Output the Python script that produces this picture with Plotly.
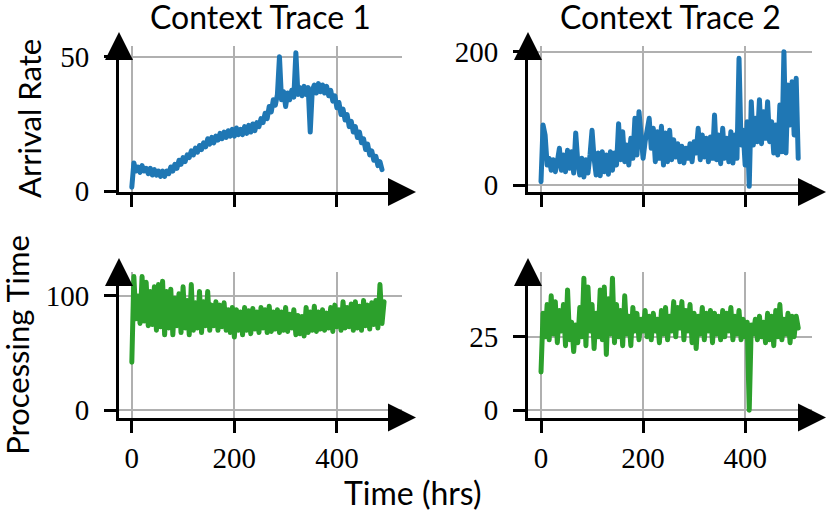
import plotly.graph_objects as go

# values, one sample every 4 hours
step_hrs = 4

arrival_1 = [
    1.5, 10.5, 7.5, 9.0, 7.0, 9.5, 7.5, 8.5, 6.5, 8.5, 6.0, 8.0, 6.0, 7.5, 5.5, 7.5,
    5.5, 7.5, 6.5, 9.0, 7.5, 10.0, 8.5, 11.5, 10.0, 12.5, 11.0, 13.5, 12.5, 15.0, 13.5, 16.0,
    14.5, 17.0, 15.5, 18.0, 16.5, 19.5, 17.5, 20.0, 18.0, 20.5, 19.0, 21.5, 19.5, 22.0, 20.0, 22.5,
    20.5, 23.0, 20.5, 23.5, 21.0, 23.0, 21.0, 24.0, 21.5, 24.5, 22.0, 25.0, 22.5, 25.5, 24.0, 27.0,
    25.5, 29.0, 27.0, 31.5, 29.5, 34.0, 32.0, 36.0, 50.0, 34.0, 37.0, 31.5, 36.5, 34.0, 37.5, 35.0,
    51.5, 36.0, 38.5, 35.5, 39.0, 36.0, 38.5, 22.0, 37.5, 39.5, 36.5, 40.0, 37.0, 39.5, 36.5, 39.0,
    35.5, 37.5, 33.5, 35.5, 31.0, 33.0, 28.5, 30.5, 26.5, 28.5, 24.0, 26.0, 22.0, 24.0, 20.0, 22.0,
    18.0, 19.5, 15.5, 17.5, 13.5, 15.0, 11.5, 13.0, 9.5, 11.0, 8.0,
]

arrival_2 = [
    5, 90, 75, 30, 40, 22, 38, 20, 35, 55, 22, 45, 20, 52, 25, 50,
    18, 78, 35, 15, 40, 12, 38, 18, 45, 82, 40, 15, 48, 14, 50, 20,
    45, 16, 50, 22, 48, 30, 92, 38, 80, 35, 60, 30, 70, 40, 100, 45,
    110, 75, 40, 65, 88, 100, 55, 85, 35, 80, 40, 88, 30, 78, 35, 82,
    38, 68, 42, 62, 35, 58, 33, 55, 40, 62, 35, 65, 48, 85, 38, 75,
    42, 70, 35, 72, 40, 105, 38, 75, 32, 85, 40, 70, 35, 80, 33, 75,
    40, 190, 60, 82, 30, 95, -2, 125, 60, 100, 65, 128, 62, 110, 70, 125,
    65, 95, 48, 90, 45, 120, 50, 200, 48, 150, 90, 155, 75, 160, 40,
]

processing_1 = [
    42, 117, 80, 100, 76, 117, 78, 112, 74, 104, 75, 108, 70, 110, 73, 113,
    66, 104, 72, 106, 66, 98, 74, 102, 68, 108, 72, 96, 66, 110, 70, 94,
    72, 104, 68, 95, 74, 104, 70, 92, 74, 95, 70, 92, 73, 94, 70, 88,
    68, 90, 64, 88, 70, 86, 66, 90, 70, 87, 67, 89, 71, 86, 68, 90,
    72, 88, 68, 91, 69, 86, 71, 88, 68, 86, 70, 90, 69, 84, 72, 88,
    66, 83, 67, 82, 65, 90, 68, 86, 70, 91, 69, 86, 71, 88, 70, 85,
    72, 90, 69, 92, 73, 88, 70, 95, 72, 90, 73, 93, 70, 95, 72, 91,
    70, 96, 74, 92, 71, 94, 75, 96, 72, 110, 76, 95,
]

processing_2 = [
    13, 33, 25, 36, 24, 39, 26, 37, 23, 34, 27, 36, 22, 41, 24, 30,
    20, 29, 23, 35, 25, 45, 22, 42, 27, 36, 21, 33, 25, 41, 24, 42,
    19, 38, 26, 45, 23, 36, 25, 34, 22, 39, 26, 32, 22, 35, 27, 33,
    24, 31, 27, 34, 25, 32, 24, 33, 27, 31, 23, 34, 26, 35, 24, 32,
    27, 37, 25, 35, 28, 37, 24, 34, 27, 36, 23, 33, 21, 32, 26, 35,
    24, 33, 27, 34, 23, 33, 26, 32, 24, 34, 25, 33, 27, 35, 24, 32,
    26, 34, 24, 31, 25, 30, 0, 29, 26, 31, 24, 32, 25, 30, 23, 33,
    24, 32, 22, 34, 25, 36, 24, 31, 26, 33, 23, 32, 25, 32, 28,
]

col_titles = ["Context Trace 1", "Context Trace 2"]
row_titles = ["Arrival Rate", "Processing Time"]
x_title = "Time (hrs)"
x_ticks = [0, 200, 400]
y_ticks = [[0, 50], [0, 200], [0, 100], [0, 25]]

BLUE = "#1f77b4"
GREEN = "#2ca02c"
GRID = "#b0b0b0"
W, H = 830, 514
SERIF = "Liberation Serif"
SANS = "Lato"


def px_x(p):
    return p / W


def px_y(p):
    return 1 - p / H


# panel geometry in page pixels: (left, right), (top, bottom)
col_px = [(119, 402), (528, 812)]
row_px = [(46, 192), (272, 417.5)]
x_ranges = [[-25, 527], [-25.5, 531]]
y_ranges = [[-0.3, 54], [-10.5, 208.5], [-6.4, 121], [-2.5, 47.1]]

panels = [
    (arrival_1, BLUE, 0, 0),
    (arrival_2, BLUE, 0, 1),
    (processing_1, GREEN, 1, 0),
    (processing_2, GREEN, 1, 1),
]

fig = go.Figure()
shapes = []
layout = {}

for i, (vals, color, row, col) in enumerate(panels):
    n = "" if i == 0 else str(i + 1)
    hours = [k * step_hrs for k in range(len(vals))]
    fig.add_trace(
        go.Scatter(
            x=hours,
            y=vals,
            mode="lines",
            line=dict(color=color, width=5),
            xaxis="x" + n,
            yaxis="y" + n,
            showlegend=False,
        )
    )

    common = dict(
        showline=True,
        linecolor="black",
        linewidth=3,
        ticks="outside",
        ticklen=12,
        tickwidth=3,
        tickcolor="black",
        showgrid=True,
        gridcolor=GRID,
        gridwidth=2,
        zeroline=False,
        automargin=False,
        tickfont=dict(family=SERIF, size=29, color="black"),
    )
    layout["xaxis" + n] = dict(
        common,
        domain=[px_x(col_px[col][0]), px_x(col_px[col][1])],
        range=x_ranges[col],
        anchor="y" + n,
        tickvals=x_ticks,
        showticklabels=(row == 1),
        ticklabelstandoff=1,
    )
    layout["yaxis" + n] = dict(
        common,
        domain=[px_y(row_px[row][1]), px_y(row_px[row][0])],
        range=y_ranges[i],
        anchor="x" + n,
        tickvals=y_ticks[i],
        ticklabelstandoff=9,
    )

    # arrow heads at the ends of both spines
    xd, yd = "x" + n + " domain", "y" + n + " domain"
    shapes.append(
        dict(
            type="path", xref=xd, yref=yd, xsizemode="pixel", ysizemode="pixel",
            xanchor=0, yanchor=1, path="M -14,-14 L 14,-14 L 0,14 Z",
            fillcolor="black", line=dict(width=0), layer="above",
        )
    )
    shapes.append(
        dict(
            type="path", xref=xd, yref=yd, xsizemode="pixel", ysizemode="pixel",
            xanchor=1, yanchor=0, path="M -14,-14 L -14,14 L 14,0 Z",
            fillcolor="black", line=dict(width=0), layer="above",
        )
    )

annotations = []
for col, title in enumerate(col_titles):
    annotations.append(
        dict(
            text=title, xref="paper", yref="paper",
            x=px_x(sum(col_px[col]) / 2), y=px_y(17),
            xanchor="center", yanchor="middle", showarrow=False, borderpad=0,
            font=dict(family=SANS, size=32, color="black"),
        )
    )
for row, (title, xpos) in enumerate(zip(row_titles, [29, 17])):
    annotations.append(
        dict(
            text=title, xref="paper", yref="paper",
            x=px_x(xpos), y=px_y(sum(row_px[row]) / 2),
            xanchor="center", yanchor="middle", showarrow=False, textangle=-90,
            borderpad=0,
            font=dict(family=SANS, size=31, color="black"),
        )
    )
annotations.append(
    dict(
        text=x_title, xref="paper", yref="paper",
        x=px_x(413), y=px_y(492),
        xanchor="center", yanchor="middle", showarrow=False,
        font=dict(family=SANS, size=32, color="black"),
    )
)

fig.update_layout(
    **layout,
    shapes=shapes,
    annotations=annotations,
    width=W,
    height=H,
    margin=dict(l=0, r=0, t=0, b=0, autoexpand=False),
    plot_bgcolor="white",
    paper_bgcolor="white",
)

# drop the page's default body margin and round the line joins
post_js = (
    "document.body.style.margin='0';"
    "document.querySelectorAll('.scatterlayer .js-line').forEach(function(p){"
    "p.style.strokeLinejoin='round';p.style.strokeLinecap='round';});"
)
fig.write_html(
    "out.html", post_script=post_js, config={"displayModeBar": False}
)
